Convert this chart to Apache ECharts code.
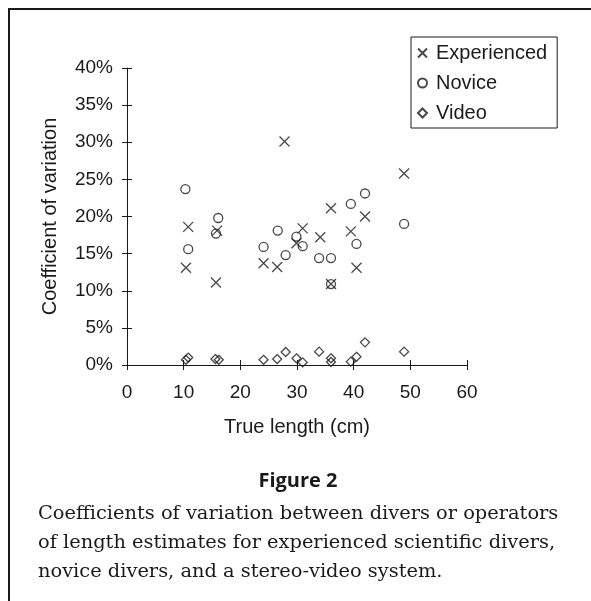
<!DOCTYPE html>
<html>
<head>
<meta charset="utf-8">
<style>
  html, body { margin: 0; padding: 0; background: #fff; }
  #chart { width: 591px; height: 601px; }
</style>
</head>
<body>
<div id="chart"></div>
<script src="https://cdn.jsdelivr.net/npm/echarts@6/dist/echarts.min.js"></script>
<script>
  // true length (cm) and coefficient of variation (%) per group
  var expLength = [10.4, 10.8, 15.7, 15.9, 24.1, 26.5, 27.8, 29.9, 31.0, 34.1, 36.0, 36.0, 39.5, 40.5, 42.0, 48.9];
  var expCv     = [13.1, 18.6, 11.1, 18.1, 13.7, 13.2, 30.1, 16.4, 18.4, 17.2, 21.1, 10.9, 18.0, 13.1, 20.0, 25.8];

  var novLength = [10.3, 10.8, 16.1, 15.7, 24.1, 26.6, 28.0, 29.9, 31.0, 33.9, 36.0, 36.0, 39.5, 40.5, 42.0, 48.9];
  var novCv     = [23.7, 15.6, 19.8, 17.7, 15.9, 18.1, 14.8, 17.3, 16.0, 14.4, 14.4, 10.9, 21.7, 16.3, 23.1, 19.0];

  var vidLength = [10.4, 10.8, 15.6, 16.2, 24.1, 26.5, 28.0, 29.9, 31.0, 33.9, 36.0, 36.0, 39.5, 40.5, 42.0, 48.9];
  var vidCv     = [0.7, 1.0, 0.8, 0.7, 0.7, 0.8, 1.75, 0.9, 0.35, 1.8, 0.9, 0.4, 0.45, 1.1, 3.05, 1.8];

  var xTicks = [0, 60, 10];   // min, max, step
  var yTicks = [0, 40, 5];

  function pairs(xs, ys) {
    return xs.map(function (x, i) { return [x, ys[i]]; });
  }

  var ink = '#1a1a1a';
  var sans = 'Liberation Sans';
  var serif = '19.4px "DejaVu Serif"';
  var markStyle = { color: 'rgba(0,0,0,0)', borderColor: ink, borderWidth: 1.3 };

  var chart = echarts.init(document.getElementById('chart'));

  var option = {
    backgroundColor: '#fff',
    animation: false,
    grid: { left: 127, right: 124, top: 68, bottom: 236 },
    legend: {
      orient: 'vertical',
      left: 411, top: 37,
      padding: [6, 10, 5, 6],
      itemGap: 10,
      itemWidth: 9, itemHeight: 9,
      borderColor: ink, borderWidth: 1,
      textStyle: { fontFamily: sans, fontSize: 20, color: ink, padding: [0, 0, 0, 4] },
      data: ['Experienced', 'Novice', 'Video']
    },
    xAxis: [{
      type: 'value', min: xTicks[0], max: xTicks[1], interval: xTicks[2],
      name: 'True length (cm)', nameLocation: 'middle', nameGap: 52,
      nameTextStyle: { fontFamily: sans, fontSize: 20, color: ink },
      splitLine: { show: false },
      axisLine: { lineStyle: { color: ink, width: 1 } },
      axisTick: { length: 5, lineStyle: { color: ink } },
      axisLabel: { fontFamily: sans, fontSize: 19, color: ink, margin: 18 }
    }, {
      type: 'value', min: xTicks[0], max: xTicks[1], interval: xTicks[2],
      position: 'bottom', gridIndex: 0,
      splitLine: { show: false }, axisLine: { show: false }, axisLabel: { show: false },
      axisTick: { inside: true, length: 5, lineStyle: { color: ink } }
    }],
    yAxis: [{
      type: 'value', min: yTicks[0], max: yTicks[1], interval: yTicks[2],
      name: 'Coefficient of variation', nameLocation: 'middle', nameGap: 67,
      nameTextStyle: { fontFamily: sans, fontSize: 20, color: ink },
      splitLine: { show: false },
      axisLine: { show: true, lineStyle: { color: ink, width: 1 } },
      axisTick: { show: true, length: 5, lineStyle: { color: ink } },
      axisLabel: { fontFamily: sans, fontSize: 19, color: ink, margin: 14, formatter: '{value}%' }
    }, {
      type: 'value', min: yTicks[0], max: yTicks[1], interval: yTicks[2],
      position: 'left', gridIndex: 0,
      splitLine: { show: false }, axisLine: { show: false }, axisLabel: { show: false },
      axisTick: { show: true, inside: true, length: 5, lineStyle: { color: ink } }
    }],
    series: [{
      name: 'Experienced', type: 'scatter',
      symbol: 'path://M0,0L10,10M0,10L10,0', symbolSize: 10,
      itemStyle: markStyle,
      data: pairs(expLength, expCv)
    }, {
      name: 'Novice', type: 'scatter',
      symbol: 'circle', symbolSize: 9,
      itemStyle: markStyle,
      data: pairs(novLength, novCv)
    }, {
      name: 'Video', type: 'scatter',
      symbol: 'diamond', symbolSize: 9,
      itemStyle: markStyle,
      data: pairs(vidLength, vidCv)
    }],
    graphic: [
      { type: 'polyline', shape: { points: [[9, 601], [9, 9], [591, 9]] },
        style: { stroke: ink, lineWidth: 2, fill: null } },
      { type: 'text', x: 298, y: 481,
        style: { text: 'Figure 2', font: 'bold 20px "Open Sans"', fill: ink,
                 textAlign: 'center', textVerticalAlign: 'middle' } },
      { type: 'text', x: 38, y: 514,
        style: { text: 'Coefficients of variation between divers or operators',
                 font: serif, fill: ink, textVerticalAlign: 'middle' } },
      { type: 'text', x: 38, y: 543,
        style: { text: 'of length estimates for experienced scientific divers,',
                 font: serif, fill: ink, textVerticalAlign: 'middle' } },
      { type: 'text', x: 38, y: 572,
        style: { text: 'novice divers, and a stereo-video system.',
                 font: serif, fill: ink, textVerticalAlign: 'middle' } }
    ]
  };

  chart.setOption(option);
</script>
</body>
</html>
